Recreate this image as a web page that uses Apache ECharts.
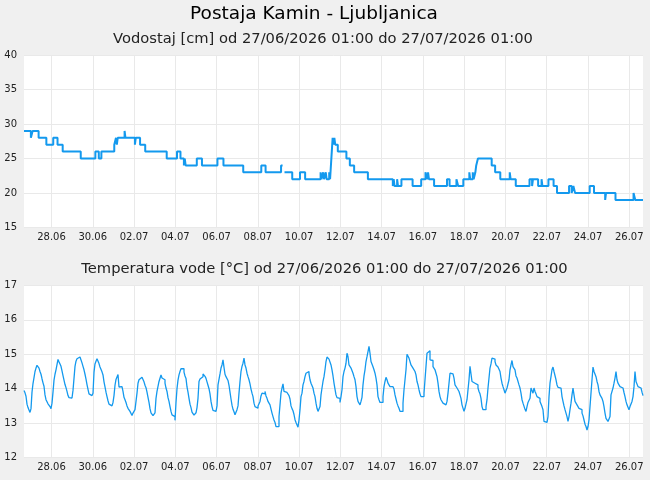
<!DOCTYPE html>
<html><head><meta charset="utf-8">
<script src="https://cdn.jsdelivr.net/npm/echarts@6/dist/echarts.min.js"></script>
<style>html,body{margin:0;padding:0;background:#f0f0f0}#c{width:650px;height:480px}</style>
</head><body><div id="c"></div>
<script>
// Time is in hours since the start of the window (27/06/2026 01:00), window length 720 h
const windowHours = 720;
const tickHours = [32,80,128,176,224,272,320,368,416,464,512,560,608,656,704];
const tickLabels = ['28.06','30.06','02.07','04.07','06.07','08.07','10.07','12.07','14.07','16.07','18.07','20.07','22.07','24.07','26.07'];

const titleText = 'Postaja Kamin - Ljubljanica';
const levelTitle = 'Vodostaj [cm] od 27/06/2026 01:00 do 27/07/2026 01:00';
const tempTitle = 'Temperatura vode [°C] od 27/06/2026 01:00 do 27/07/2026 01:00';

// Water level [cm]: value holds from the given hour until the next change
const levelHours = [0,8,10,17,26,34,39,45,66,83,87,90,105,107,108,109,117,118,129,130,
  135,141,166,178,182,186,187,188,201,207,225,232,255,276,281,299,300.8,301,303,312,
  321,327,345,346,348,349,351,352,355,356,358,359,360,361,362,365,375,379,384,400,
  429,430,431,434,435,439,452,462,467,469,470,471,477,492,495,503,505,511,518,519,
  522,523,525,526,528,544,548,554,565,566,572,588,591,592,598,602,603,610,616,620,
  634,637,639,641,658,663,676,677,688,709,711,720];
const levelValues = [29,28,29,28,27,28,27,26,25,26,25,26,27,28,27,28,29,28,27,28,
  27,26,25,26,25,24,25,24,25,24,25,24,23,24,23,24,24,null,23,22,
  23,22,23,22,23,22,23,22,23,22,26,28,27,28,27,26,25,24,23,22,
  21,22,21,22,21,22,21,22,23,22,23,22,21,22,21,22,21,22,23,22,
  23,22,23,24,25,24,23,22,23,22,21,22,21,22,21,22,21,22,21,20,
  21,20,21,20,21,20,19,20,19,20,19,19];

// Water temperature [°C]: equally spaced samples across the 30-day window
const temperature = [
13.95,13.88,13.78,13.55,13.45,13.38,13.31,13.42,13.9,14.15,14.32,14.5,14.6,14.68,14.7,14.6,14.5,14.42,14.29,14.17,
14.07,13.82,13.68,13.62,13.56,13.52,13.48,13.42,13.58,13.9,14.25,14.42,14.55,14.7,14.85,14.78,14.72,14.65,14.52,14.38,
14.25,14.12,14.03,13.92,13.8,13.74,13.73,13.73,13.75,13.95,14.3,14.65,14.8,14.87,14.92,14.92,14.92,14.87,14.75,14.65,
14.55,14.42,14.28,14.12,13.98,13.85,13.8,13.8,13.8,13.87,14.48,14.72,14.8,14.87,14.92,14.73,14.63,14.58,14.49,14.4,
14.2,14.05,13.9,13.77,13.65,13.55,13.5,13.5,13.5,13.6,13.8,14.1,14.27,14.34,14.41,14.05,14.1,14.06,14.05,13.92,
13.75,13.68,13.6,13.5,13.43,13.38,13.34,13.29,13.22,13.29,13.34,13.39,13.63,13.87,14.16,14.26,14.31,14.33,14.34,14.3,
14.2,14.1,14.03,13.9,13.75,13.6,13.42,13.3,13.25,13.22,13.22,13.3,13.72,13.92,13.97,14.21,14.26,14.4,14.31,14.31,
14.26,14.16,14.02,13.92,13.74,13.63,13.48,13.34,13.24,13.22,13.19,13.08,13.6,14.0,14.25,14.4,14.5,14.58,14.63,14.58,
14.48,14.37,14.3,14.05,13.9,13.72,13.55,13.45,13.32,13.28,13.23,13.21,13.3,13.45,13.72,14.21,14.28,14.33,14.35,14.43,
14.4,14.36,14.3,14.2,14.1,14.0,13.85,13.63,13.48,13.37,13.34,13.34,13.34,13.5,14.11,14.16,14.43,14.6,14.69,14.84,
14.62,14.42,14.35,14.32,14.24,14.1,13.9,13.7,13.52,13.4,13.33,13.24,13.29,13.39,13.5,13.87,14.21,14.5,14.65,14.74,
14.89,14.69,14.6,14.45,14.35,14.26,14.14,13.99,13.87,13.77,13.58,13.48,13.53,13.43,13.5,13.53,13.63,13.79,13.87,13.92,
13.85,13.92,13.79,13.72,13.63,13.58,13.53,13.48,13.29,13.19,13.09,13.02,12.9,12.9,12.9,13.19,13.53,13.87,14.02,14.14,
13.92,13.89,13.89,13.89,13.89,13.8,13.7,13.5,13.42,13.36,13.25,13.1,13.02,12.97,12.88,13.09,13.39,13.77,13.87,14.11,
14.21,14.35,14.45,14.5,14.5,14.43,14.26,14.16,14.11,14.02,13.87,13.77,13.58,13.43,13.34,13.29,13.48,13.82,14.02,14.21,
14.35,14.55,14.79,14.92,14.89,14.86,14.84,14.69,14.55,14.37,14.16,13.99,13.82,13.74,13.72,13.72,13.6,13.77,13.97,14.35,
14.5,14.6,14.74,15.03,14.93,14.69,14.64,14.6,14.55,14.45,14.35,14.26,14.06,13.77,13.63,13.58,13.53,13.63,13.75,14.11,
14.37,14.55,14.79,14.93,15.08,15.23,15.03,14.79,14.74,14.64,14.55,14.45,14.31,14.11,13.77,13.68,13.6,13.6,13.6,13.77,
14.06,14.21,14.33,14.26,14.16,14.14,14.06,14.11,14.06,14.02,13.99,13.82,13.7,13.58,13.5,13.43,13.34,13.31,13.34,13.58,
13.97,14.26,14.55,15.0,14.95,14.89,14.84,14.69,14.64,14.6,14.57,14.5,14.4,14.21,14.11,13.97,13.85,13.77,13.72,13.77,
13.87,14.26,14.65,15.03,15.08,15.1,14.84,14.82,14.82,14.64,14.6,14.55,14.45,14.35,14.16,13.92,13.77,13.68,13.63,13.58,
13.58,13.53,13.5,13.63,13.87,14.16,14.45,14.5,14.43,14.4,14.31,14.11,14.06,14.02,13.99,13.92,13.82,13.72,13.53,13.48,
13.34,13.43,13.48,13.68,13.97,14.26,14.65,14.63,14.21,14.21,14.16,14.14,14.11,14.11,14.02,13.92,13.85,13.72,13.48,13.39,
13.39,13.39,13.48,13.68,14.02,14.31,14.6,14.72,14.89,14.92,14.86,14.79,14.69,14.69,14.63,14.6,14.5,14.31,14.16,14.06,
13.97,13.87,13.87,14.02,14.06,14.26,14.55,14.69,14.82,14.64,14.64,14.55,14.37,14.31,14.26,14.11,14.02,13.87,13.68,13.58,
13.53,13.4,13.34,13.48,13.6,13.6,13.72,14.02,13.99,13.87,14.02,13.92,13.85,13.77,13.72,13.72,13.63,13.58,13.48,13.39,
13.05,13.02,13.02,13.02,13.19,13.77,14.16,14.35,14.55,14.63,14.5,14.5,14.26,14.11,14.04,14.02,14.02,13.97,13.77,13.63,
13.5,13.39,13.29,13.19,13.05,13.19,13.39,13.58,13.82,14.02,13.82,13.63,13.6,13.53,13.48,13.43,13.4,13.39,13.29,13.21,
13.09,12.97,12.9,12.8,12.9,13.09,13.48,13.87,14.26,14.63,14.5,14.45,14.35,14.21,14.11,13.92,13.82,13.77,13.72,13.63,
13.48,13.29,13.14,13.09,13.05,13.0,13.19,13.82,13.87,14.02,14.16,14.31,14.5,14.26,14.16,14.11,14.06,14.02,14.02,13.97,
13.89,13.77,13.63,13.53,13.48,13.39,13.48,13.53,13.63,13.77,14.06,14.5,14.21,14.16,14.06,14.02,14.02,13.97,13.9,13.8
];

const FONT = 'DejaVu Sans';
const LINE = '#1399ee';
const GRIDC = '#e9e9e9';

const levelData = levelHours.map((h, i) => [h, levelValues[i]]);
const tempStep = windowHours / (temperature.length - 1);
const tempData = temperature.map((v, i) => [i * tempStep, v]);

function xAxis(gi) {
  return {
    type: 'value', gridIndex: gi, min: 0, max: windowHours,
    axisLine: { show: false },
    axisTick: { show: false, customValues: tickHours },
    axisLabel: {
      customValues: tickHours,
      formatter: v => { const k = tickHours.indexOf(v); return k >= 0 ? tickLabels[k] : ''; },
      fontFamily: FONT, fontSize: 10, color: '#222', margin: 5
    },
    splitLine: { show: true, lineStyle: { color: GRIDC, width: 1 } }
  };
}
function yAxis(gi, min, max, interval) {
  return {
    type: 'value', gridIndex: gi, min: min, max: max, interval: interval,
    axisLine: { show: false }, axisTick: { show: false },
    axisLabel: { fontFamily: FONT, fontSize: 10, color: '#222', margin: 7 },
    splitLine: { show: true, lineStyle: { color: GRIDC, width: 1 } }
  };
}
function label(text, x, y, size, color) {
  return { type: 'text', x: x, y: y, silent: true,
    style: { text: text, fontFamily: FONT, fontSize: size, fill: color,
             textAlign: 'center', textVerticalAlign: 'middle' } };
}

const chart = echarts.init(document.getElementById('c'), null, { renderer: 'canvas' });
chart.setOption({
  backgroundColor: '#f0f0f0',
  animation: false,
  graphic: [
    label(titleText, 314, 14, 18.5, '#000'),
    label(levelTitle, 323, 39.5, 14.7, '#222'),
    label(tempTitle, 324.5, 269, 14.7, '#222')
  ],
  grid: [
    { left: 24, top: 55, width: 619, height: 172.5, show: true, backgroundColor: '#fff', borderWidth: 0 },
    { left: 24, top: 285.5, width: 619, height: 172, show: true, backgroundColor: '#fff', borderWidth: 0 }
  ],
  xAxis: [xAxis(0), xAxis(1)],
  yAxis: [yAxis(0, 15, 40, 5), yAxis(1, 12, 17, 1)],
  series: [
    { type: 'line', xAxisIndex: 0, yAxisIndex: 0, data: levelData, step: 'end',
      showSymbol: false, connectNulls: false, lineStyle: { color: LINE, width: 2 }, itemStyle: { color: LINE } },
    { type: 'line', xAxisIndex: 1, yAxisIndex: 1, data: tempData, step: 'end',
      showSymbol: false, lineStyle: { color: LINE, width: 1.3 }, itemStyle: { color: LINE } }
  ]
});
</script></body></html>
